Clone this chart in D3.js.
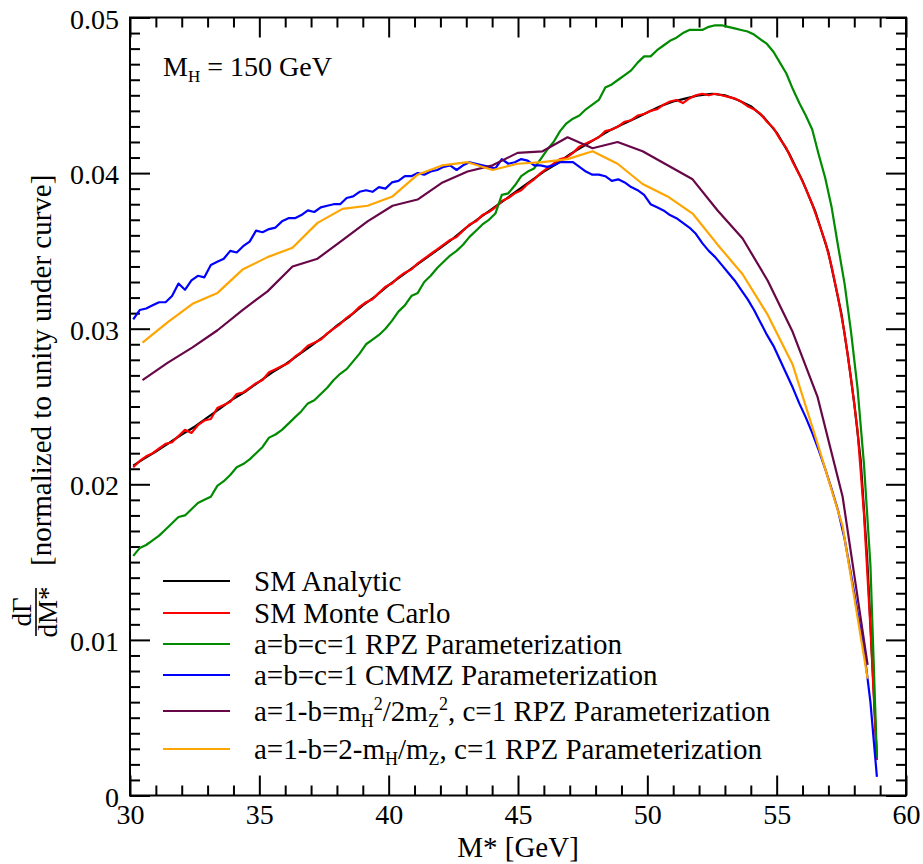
<!DOCTYPE html>
<html>
<head>
<meta charset="utf-8">
<script src="https://cdn.jsdelivr.net/npm/d3@7"></script>
<style>
  html, body { margin: 0; padding: 0; background: #fff; }
  svg { display: block; }
</style>
</head>
<body>
<svg id="chart" width="923" height="864"></svg>
<script>
// Histogram binning of the generated samples (GeV)
const fineRange = [30, 59];
const fineBins = 116;
const coarseRange = [30, 59];
const coarseBins = 30;

// SM analytic curve
const analyticMass = [30.125, 30.5, 31, 31.5, 32, 32.5, 33, 33.5, 34, 34.5, 35, 35.5, 36, 36.5, 37, 37.5,
  38, 38.5, 39, 39.5, 40, 40.5, 41, 41.5, 42, 42.5, 43, 43.5, 44, 44.5, 45, 45.5, 46, 46.5, 47, 47.5,
  48, 48.5, 49, 49.5, 50, 50.5, 51, 51.5, 52, 52.5, 53, 53.5, 54, 54.5, 55, 55.5, 56, 56.5, 57, 57.5,
  57.75, 58, 58.25, 58.5, 58.75, 58.875];
const analyticRate = [0.0212, 0.0216, 0.0221, 0.02265, 0.0232, 0.0237, 0.0243, 0.0249, 0.0255, 0.0260,
  0.0266, 0.0272, 0.0277, 0.0283, 0.0289, 0.0295, 0.0302, 0.0308, 0.0315, 0.0321, 0.0328, 0.0334,
  0.0340, 0.0346, 0.0352, 0.0358, 0.0365, 0.0371, 0.0377, 0.0383, 0.0389, 0.0395, 0.0401, 0.0406,
  0.0412, 0.0417, 0.0422, 0.0427, 0.0431, 0.0435, 0.0439, 0.0443, 0.0446, 0.0448, 0.0450, 0.0451,
  0.0450, 0.0447, 0.0443, 0.0436, 0.0426, 0.0412, 0.0395, 0.0375, 0.0349, 0.0310, 0.0283, 0.0252,
  0.0215, 0.0152, 0.0068, 0.0023];

// Fine-binned Monte Carlo samples (116 bins)
const smMonteCarlo = [0.0211, 0.0215, 0.0218, 0.0220, 0.0223, 0.0226, 0.0227, 0.0231, 0.0235, 0.0233,
  0.0238, 0.0241, 0.0242, 0.0249, 0.0251, 0.0253, 0.0258, 0.0259, 0.0262, 0.0265,
  0.0267, 0.0272, 0.0274, 0.0276, 0.0278, 0.0282, 0.0285, 0.0289, 0.0291, 0.0293,
  0.0297, 0.0300, 0.0303, 0.0307, 0.0310, 0.0314, 0.0317, 0.0319, 0.0323, 0.0327,
  0.0329, 0.0333, 0.0336, 0.0338, 0.0342, 0.0345, 0.0348, 0.0351, 0.0354, 0.0357,
  0.0359, 0.0363, 0.0367, 0.0369, 0.0373, 0.0375, 0.0378, 0.0382, 0.0384, 0.0387,
  0.0389, 0.0393, 0.0396, 0.0400, 0.0403, 0.0406, 0.0409, 0.0410, 0.0413, 0.0417,
  0.0419, 0.0421, 0.0423, 0.0427, 0.0428, 0.0430, 0.0433, 0.0434, 0.0437, 0.0438,
  0.0440, 0.0441, 0.0444, 0.0446, 0.0447, 0.0445, 0.0448, 0.0450, 0.0451, 0.0450,
  0.0451, 0.0450, 0.0449, 0.0448, 0.0446, 0.0443, 0.0441, 0.0438, 0.0433, 0.0429,
  0.0422, 0.0416, 0.0407, 0.0399, 0.0390, 0.0380, 0.0368, 0.0356, 0.0340, 0.0320,
  0.0297, 0.0268, 0.0235, 0.0181, 0.0108, 0.0023];
const rpzUnit = [0.0154, 0.0159, 0.0161, 0.0164, 0.0167, 0.0171, 0.0175, 0.0179, 0.0180, 0.0184,
  0.0188, 0.0190, 0.0192, 0.0199, 0.0202, 0.0206, 0.0211, 0.0213, 0.0216, 0.0220,
  0.0224, 0.0230, 0.0232, 0.0235, 0.0239, 0.0243, 0.0247, 0.0252, 0.0254, 0.0258,
  0.0262, 0.0267, 0.0271, 0.0274, 0.0279, 0.0284, 0.0290, 0.0293, 0.0296, 0.0300,
  0.0305, 0.0311, 0.0315, 0.0321, 0.0323, 0.0330, 0.0334, 0.0339, 0.0343, 0.0347,
  0.0350, 0.0354, 0.0359, 0.0363, 0.0367, 0.0370, 0.0374, 0.0386, 0.0387, 0.0392,
  0.0398, 0.0401, 0.0403, 0.0409, 0.0415, 0.0420, 0.0427, 0.0432, 0.0435, 0.0437,
  0.0441, 0.0444, 0.0447, 0.0455, 0.0457, 0.0460, 0.0463, 0.0466, 0.0471, 0.0475,
  0.0475, 0.0479, 0.0482, 0.0485, 0.0487, 0.0490, 0.0492, 0.0492, 0.0492, 0.0494,
  0.0495, 0.0495, 0.0494, 0.0493, 0.0492, 0.0491, 0.0489, 0.0486, 0.0483, 0.0478,
  0.0471, 0.0464, 0.0454, 0.0445, 0.0437, 0.0428, 0.0412, 0.0397, 0.0378, 0.0353,
  0.0329, 0.0298, 0.0262, 0.0213, 0.0148, 0.0024];
const cmmzUnit = [0.0306, 0.0312, 0.0313, 0.0315, 0.0317, 0.0317, 0.0321, 0.0329, 0.0325, 0.0331,
  0.0334, 0.0333, 0.0341, 0.0343, 0.0345, 0.0350, 0.0349, 0.0353, 0.0356, 0.0363,
  0.0362, 0.0364, 0.0365, 0.0369, 0.0371, 0.0371, 0.0373, 0.0376, 0.0375, 0.0378,
  0.0379, 0.0380, 0.0380, 0.0384, 0.0385, 0.0388, 0.0389, 0.0388, 0.0391, 0.0390,
  0.0394, 0.0395, 0.0398, 0.0398, 0.0400, 0.0399, 0.0401, 0.0402, 0.0404, 0.0405,
  0.0402, 0.0405, 0.0407, 0.0406, 0.0405, 0.0404, 0.0403, 0.0409, 0.0406, 0.0407,
  0.0409, 0.0408, 0.0405, 0.0405, 0.0404, 0.0405, 0.0407, 0.0407, 0.0407, 0.0404,
  0.0401, 0.0399, 0.0399, 0.0398, 0.0395, 0.0396, 0.0394, 0.0391, 0.0389, 0.0386,
  0.0380, 0.0378, 0.0376, 0.0373, 0.0371, 0.0368, 0.0365, 0.0361, 0.0355, 0.0350,
  0.0346, 0.0341, 0.0336, 0.0331, 0.0325, 0.0319, 0.0312, 0.0304, 0.0296, 0.0289,
  0.0280, 0.0271, 0.0262, 0.0252, 0.0243, 0.0233, 0.0222, 0.0210, 0.0197, 0.0183,
  0.0165, 0.0142, 0.0118, 0.0094, 0.0060, 0.0012];

// Coarse-binned samples (30 bins)
const rpzMassRatioSq = [0.0267, 0.0278, 0.0288, 0.0299, 0.0312, 0.0324, 0.0340, 0.0345, 0.0357, 0.0369,
  0.0379, 0.0383, 0.0394, 0.0401, 0.0405, 0.0413, 0.0414, 0.0423, 0.0416, 0.0420,
  0.0414, 0.0405, 0.0396, 0.0376, 0.0358, 0.0331, 0.0298, 0.0256, 0.0192, 0.0084];
const rpzMassRatio = [0.0291, 0.0304, 0.0316, 0.0323, 0.0338, 0.0346, 0.0352, 0.0368, 0.0377, 0.0379,
  0.0385, 0.0399, 0.0405, 0.0407, 0.0402, 0.0406, 0.0407, 0.0409, 0.0414, 0.0406,
  0.0393, 0.0385, 0.0374, 0.0354, 0.0335, 0.0309, 0.0277, 0.0226, 0.0173, 0.0075];

// Axis ticks
const xTicks = [30, 35, 40, 45, 50, 55, 60];
const xTickLabels = ["30", "35", "40", "45", "50", "55", "60"];
const yTicks = [0, 0.01, 0.02, 0.03, 0.04, 0.05];
const yTickLabels = ["0", "0.01", "0.02", "0.03", "0.04", "0.05"];

const FONT = "'Liberation Serif', Tinos, 'Times New Roman', Times, 'Nimbus Roman', 'Nimbus Roman No9 L', " +
  "FreeSerif, 'DejaVu Serif', 'Noto Serif', serif";

// Bin centres
function binCentres(range, n) {
  const w = (range[1] - range[0]) / n;
  return d3.range(n).map(i => range[0] + (i + 0.5) * w);
}
const fineMass = binCentres(fineRange, fineBins);
const coarseMass = binCentres(coarseRange, coarseBins);

const zip = (xs, ys) => xs.map((v, i) => [v, ys[i]]);

// Legend label pieces: [text, shift] where shift is "sub", "sup" or none
const series = [
  { pts: zip(analyticMass, analyticRate), color: "#000000", label: [["SM Analytic"]] },
  { pts: zip(fineMass, smMonteCarlo), color: "#ff0000", label: [["SM Monte Carlo"]] },
  { pts: zip(fineMass, rpzUnit), color: "#008b00", label: [["a=b=c=1 RPZ Parameterization"]] },
  { pts: zip(fineMass, cmmzUnit), color: "#0000ff", label: [["a=b=c=1 CMMZ Parameterization"]] },
  { pts: zip(coarseMass, rpzMassRatioSq), color: "#670748",
    label: [["a=1-b=m"], ["H", "sub"], ["2", "sup"], ["/2m"], ["Z", "sub"], ["2", "sup"], [", c=1 RPZ Parameterization"]] },
  { pts: zip(coarseMass, rpzMassRatio), color: "#ffa500",
    label: [["a=1-b=2-m"], ["H", "sub"], ["/m"], ["Z", "sub"], [", c=1 RPZ Parameterization"]] }
];

const svg = d3.select("#chart").attr("font-family", FONT);
const plotLeft = 130, plotRight = 906, plotTop = 17.5, plotBottom = 795.5;

const xScale = d3.scaleLinear().domain([30, 60]).range([plotLeft, plotRight]);
const yScale = d3.scaleLinear().domain([0, 0.05]).range([plotBottom, plotTop]);

const xMinor = d3.range(31, 60, 1).filter(v => v % 5 !== 0);
const yMinor = d3.range(1, 50).filter(v => v % 10 !== 0).map(v => v / 1000);

function styleAxis(sel, fontSize) {
  sel.attr("font-family", FONT).attr("font-size", fontSize);
  sel.select(".domain").remove();
  sel.selectAll(".tick line").attr("stroke", "#000").attr("stroke-width", 2);
  sel.selectAll(".tick text").attr("fill", "#000").attr("font-family", FONT);
}

// bottom axis with labels
svg.append("g").attr("transform", `translate(0,${plotBottom})`)
  .call(d3.axisBottom(xScale).tickValues(xTicks).tickSize(-20).tickPadding(9)
    .tickFormat((d, i) => xTickLabels[i]))
  .call(s => styleAxis(s, 28));
svg.append("g").attr("transform", `translate(0,${plotBottom})`)
  .call(d3.axisBottom(xScale).tickValues(xMinor).tickSize(-10).tickFormat(""))
  .call(s => styleAxis(s, 28));
// top axis
svg.append("g").attr("transform", `translate(0,${plotTop})`)
  .call(d3.axisTop(xScale).tickValues(xTicks).tickSize(-20).tickFormat(""))
  .call(s => styleAxis(s, 28));
svg.append("g").attr("transform", `translate(0,${plotTop})`)
  .call(d3.axisTop(xScale).tickValues(xMinor).tickSize(-10).tickFormat(""))
  .call(s => styleAxis(s, 28));
// left axis with labels
svg.append("g").attr("transform", `translate(${plotLeft},0)`)
  .call(d3.axisLeft(yScale).tickValues(yTicks).tickSize(-20).tickPadding(11)
    .tickFormat((d, i) => yTickLabels[i]))
  .call(s => styleAxis(s, 28))
  .call(s => s.selectAll(".tick text").attr("dy", "0.38em"));
svg.append("g").attr("transform", `translate(${plotLeft},0)`)
  .call(d3.axisLeft(yScale).tickValues(yMinor).tickSize(-10).tickFormat(""))
  .call(s => styleAxis(s, 28));
// right axis
svg.append("g").attr("transform", `translate(${plotRight},0)`)
  .call(d3.axisRight(yScale).tickValues(yTicks).tickSize(-20).tickFormat(""))
  .call(s => styleAxis(s, 28));
svg.append("g").attr("transform", `translate(${plotRight},0)`)
  .call(d3.axisRight(yScale).tickValues(yMinor).tickSize(-10).tickFormat(""))
  .call(s => styleAxis(s, 28));

// frame
svg.append("rect")
  .attr("x", plotLeft).attr("y", plotTop)
  .attr("width", plotRight - plotLeft).attr("height", plotBottom - plotTop)
  .attr("fill", "none").attr("stroke", "#000").attr("stroke-width", 2);

// curves
const line = d3.line().x(d => xScale(d[0])).y(d => yScale(d[1]));
svg.append("g").selectAll("path").data(series).join("path")
  .attr("d", d => line(d.pts))
  .attr("fill", "none")
  .attr("stroke", d => d.color)
  .attr("stroke-width", 2.2)
  .attr("stroke-linejoin", "round");

// rich text with sub/superscripts
function richText(sel, parts, size) {
  const small = Math.round(size * 0.62);
  let offset = 0;
  sel.attr("font-family", FONT).attr("font-size", size);
  parts.forEach(([t, kind]) => {
    const target = kind === "sub" ? 6 : kind === "sup" ? -11 : 0;
    sel.append("tspan")
      .attr("dy", target - offset)
      .attr("font-size", kind ? small : size)
      .text(t);
    offset = target;
  });
}

// legend
const legendRows = [581, 613, 644, 675, 711, 749];
const legend = svg.append("g");
series.forEach((s, i) => {
  const ly = legendRows[i];
  legend.append("line")
    .attr("x1", 163).attr("x2", 230).attr("y1", ly).attr("y2", ly)
    .attr("stroke", s.color).attr("stroke-width", 2.2);
  const t = legend.append("text").attr("x", 254).attr("y", ly + 9.5).attr("fill", "#000");
  richText(t, s.label, 29);
});

// Higgs mass annotation
const mh = svg.append("text").attr("x", 163).attr("y", 76).attr("fill", "#000");
richText(mh, [["M"], ["H", "sub"], [" = 150 GeV"]], 28);

// x-axis title
svg.append("text")
  .attr("x", (plotLeft + plotRight) / 2).attr("y", 857)
  .attr("text-anchor", "middle").attr("fill", "#000")
  .attr("font-family", FONT).attr("font-size", 29)
  .text("M* [GeV]");

// y-axis title: dΓ/dM* as a stacked fraction, then the bracketed note
svg.append("text")
  .attr("transform", "translate(51,566) rotate(-90)")
  .attr("font-family", FONT).attr("font-size", 29).attr("fill", "#000")
  .text("[normalized to unity under curve]");
const frac = svg.append("g").attr("transform", "translate(36,612) rotate(-90)")
  .attr("font-family", FONT).attr("font-size", 27).attr("fill", "#000");
frac.append("text").attr("x", 0).attr("y", -5).attr("text-anchor", "middle").text("dΓ");
frac.append("line").attr("x1", -24).attr("x2", 24).attr("y1", 0).attr("y2", 0)
  .attr("stroke", "#000").attr("stroke-width", 1.6);
frac.append("text").attr("x", 0).attr("y", 21).attr("text-anchor", "middle").text("dM*");
</script>
</body>
</html>
